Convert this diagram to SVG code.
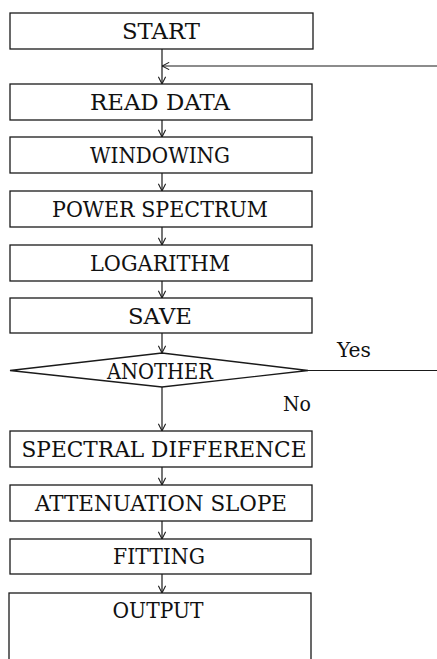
<svg xmlns="http://www.w3.org/2000/svg" width="437" height="659" viewBox="0 0 437 659">
<style>
.box{fill:#fff;stroke:#1a1a1a;stroke-width:1.3}
.lbl{font-family:"DejaVu Serif","Liberation Serif",serif;font-size:22px;fill:#111;text-anchor:middle}
.sm{font-family:"DejaVu Serif","Liberation Serif",serif;font-size:20px;fill:#111}
.ln{fill:none;stroke:#1a1a1a;stroke-width:1.2}
</style>
<defs>
<marker id="ah" viewBox="0 0 10 10" refX="10" refY="5" markerUnits="userSpaceOnUse" markerWidth="8" markerHeight="8" orient="auto">
<path d="M1,0.5 L10,5 L1,9.5" fill="none" stroke="#1a1a1a" stroke-width="1.3"/>
</marker>
</defs>
<rect width="437" height="659" fill="#fff"/>
<g id="connectors">
<line class="ln" x1="162" y1="49" x2="162" y2="84" marker-end="url(#ah)"/>
<line class="ln" x1="437" y1="66" x2="162" y2="66" marker-end="url(#ah)"/>
<line class="ln" x1="162" y1="120" x2="162" y2="137" marker-end="url(#ah)"/>
<line class="ln" x1="162" y1="173" x2="162" y2="191" marker-end="url(#ah)"/>
<line class="ln" x1="162" y1="227" x2="162" y2="245" marker-end="url(#ah)"/>
<line class="ln" x1="162" y1="281" x2="162" y2="298" marker-end="url(#ah)"/>
<line class="ln" x1="162" y1="333" x2="162" y2="353" marker-end="url(#ah)"/>
<line class="ln" x1="308" y1="370.5" x2="437" y2="370.5"/>
<line class="ln" x1="162" y1="387" x2="162" y2="431" marker-end="url(#ah)"/>
<line class="ln" x1="162" y1="467" x2="162" y2="485" marker-end="url(#ah)"/>
<line class="ln" x1="162" y1="521" x2="162" y2="539" marker-end="url(#ah)"/>
<line class="ln" x1="162" y1="574" x2="162" y2="593" marker-end="url(#ah)"/>
<text class="sm" x="337" y="357" textLength="34" lengthAdjust="spacingAndGlyphs">Yes</text>
<text class="sm" x="283" y="411" textLength="28" lengthAdjust="spacingAndGlyphs">No</text>
</g>
<g id="start"><rect class="box" x="10" y="13" width="303" height="36"/><text class="lbl" x="161" y="38.5" textLength="78" lengthAdjust="spacingAndGlyphs">START</text></g>
<g id="read-data"><rect class="box" x="10" y="84" width="302" height="36"/><text class="lbl" x="160" y="109.5" textLength="140" lengthAdjust="spacingAndGlyphs">READ DATA</text></g>
<g id="windowing"><rect class="box" x="10" y="137" width="302" height="36"/><text class="lbl" x="160" y="162.5" textLength="140" lengthAdjust="spacingAndGlyphs">WINDOWING</text></g>
<g id="power-spectrum"><rect class="box" x="10" y="191" width="302" height="36"/><text class="lbl" x="160" y="216.5" textLength="216" lengthAdjust="spacingAndGlyphs">POWER SPECTRUM</text></g>
<g id="logarithm"><rect class="box" x="10" y="245" width="302" height="36"/><text class="lbl" x="160" y="270.5" textLength="140" lengthAdjust="spacingAndGlyphs">LOGARITHM</text></g>
<g id="save"><rect class="box" x="10" y="298" width="302" height="35"/><text class="lbl" x="160" y="323.5" textLength="64" lengthAdjust="spacingAndGlyphs">SAVE</text></g>
<g id="another"><polygon class="box" points="10,370.5 162,353 308,370.5 162,387"/><text class="lbl" x="160" y="379" textLength="106" lengthAdjust="spacingAndGlyphs">ANOTHER</text></g>
<g id="spectral-difference"><rect class="box" x="10" y="431" width="302" height="36"/><text class="lbl" x="164" y="456.5" textLength="285" lengthAdjust="spacingAndGlyphs">SPECTRAL DIFFERENCE</text></g>
<g id="attenuation-slope"><rect class="box" x="10" y="485" width="302" height="36"/><text class="lbl" x="161" y="510.5" textLength="252" lengthAdjust="spacingAndGlyphs">ATTENUATION SLOPE</text></g>
<g id="fitting"><rect class="box" x="10" y="539" width="301" height="35"/><text class="lbl" x="159" y="564" textLength="92" lengthAdjust="spacingAndGlyphs">FITTING</text></g>
<g id="output"><rect class="box" x="9" y="593" width="302" height="70"/><text class="lbl" x="158" y="617.5" textLength="91" lengthAdjust="spacingAndGlyphs">OUTPUT</text></g>
</svg>
